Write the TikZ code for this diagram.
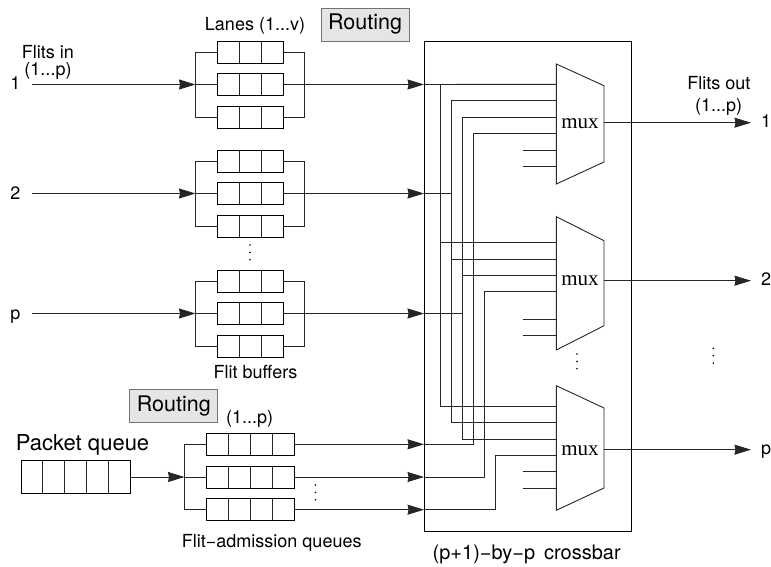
\documentclass[tikz,border=0pt]{standalone}
\usepackage{fontspec}
\setmainfont{TeX Gyre Heros}
\newfontfamily\muxfont{Liberation Serif}
\usetikzlibrary{arrows.meta}
\tikzset{
  wire/.style={line width=0.9pt, black!85},
  flit/.style={wire, -{Stealth[length=16.5pt, width=10pt, inset=1pt]}},
  queue/.style 2 args={draw, line width=0.9pt, inner sep=0pt, minimum height=22pt, minimum width={#1*#2},
    path picture={\foreach \k in {1,...,#1} \draw[wire] ([xshift=\k*#2]path picture bounding box.south west) -- ([xshift=\k*#2]path picture bounding box.north west);}},
  routing/.style={draw=black!55, line width=0.9pt, fill=black!10, inner sep=0pt, minimum width=88pt, minimum height=33pt, font=\fontsize{21.5}{24}\selectfont},
  lab/.style={inner sep=0pt, anchor=base, font=\fontsize{18}{20}\selectfont},
  big/.style={inner sep=0pt, anchor=base, font=\fontsize{22}{24}\selectfont},
  mux/.style={inner sep=0pt, anchor=base, font=\muxfont\fontsize{21}{24}\selectfont}}
\begin{document}
\begin{tikzpicture}[x=1pt, y=-1pt]
\useasboundingbox (0,0) rectangle (771,567);
% crossbar frame
\node[draw, line width=0.9pt, inner sep=0pt, minimum width=207pt, minimum height=490.5pt] (xbar) at (528,286.25) {};
\node[lab, font=\fontsize{20}{22}\selectfont] (xlab) at (526.7,559) {(p+1)−by−p\, crossbar};
% lanes with their brackets
\foreach \g/\a/\b/\c/\n/\t in {1/52/84.5/117/1/90, 2/161/193.5/226/2/199, 3/281/313.5/346/p/319.5}{
  \node[queue={3}{21.83pt}] (l\g1) at (250.3,\a) {};
  \node[queue={3}{21.83pt}] (l\g2) at (250.3,\b) {};
  \node[queue={3}{21.83pt}] (l\g3) at (250.3,\c) {};
  \coordinate (s\g) at (32,\b);
  \coordinate (a\g) at (195.5,\b);
  \coordinate (z\g) at (304.5,\b);
  \coordinate (x\g) at (xbar.west |- a\g);
  \node[lab] (in\g) at (15.5,\t) {\n};
  \draw[flit] (s\g) -- (a\g);
  \draw[flit] (z\g) -- (x\g);
  \draw[wire] (l\g1.west) -- (a\g |- l\g1) -- (a\g |- l\g3) -- (l\g3.west);
  \draw[wire] (l\g1.east) -- (z\g |- l\g1) -- (z\g |- l\g3) -- (l\g3.east);
  \draw[wire] (a\g) -- (l\g2.west);
  \draw[wire] (l\g2.east) -- (z\g);
}
\node[lab] (lanes) at (255,31) {Lanes (1...v)};
\node[lab] (buffers) at (255.5,378.7) {Flit buffers};
\node[lab] (fin) at (48,58.6) {Flits in};
\node[lab] (finr) at (48,75.6) {(1...p)};
\node[routing] (r1) at (365,24.5) {Routing};
\node[routing] (r2) at (173.75,406.2) {Routing};
% packet and admission queues
\node[big] (pq) at (82.5,450) {Packet queue};
\node[queue={5}{21.87pt}, minimum height=33pt] (p) at (75.65,477) {};
\coordinate (b) at (184.5,477);
\draw[flit] (p.east) -- (b);
\foreach \g/\y in {1/444.3, 2/477, 3/509.7}{
  \node[queue={4}{21.93pt}] (q\g) at (250.15,\y) {};
  \coordinate (e\g) at (xbar.west |- q\g);
  \draw[flit] (q\g.east) -- (e\g);
}
\draw[wire] (q1.west) -- (b |- q1) -- (b |- q3) -- (q3.west);
\draw[wire] (b) -- (q2.west);
\node[lab] (qr) at (249.7,423.3) {(1...p)};
\node[lab] (adm) at (271.7,547.7) {Flit−admission queues};
% muxes
\foreach \g/\p/\q/\u/\v/\o/\t/\n in {1/64/85.7/162/184/122.7/128.3/1, 2/216.7/240.7/325.7/350/280.7/285.7/2, 3/385.7/408/488/510.3/449.7/455/p}{
  \draw[wire] (556.3,\p) -- (604,\q) -- (604,\u) -- (556.3,\v) -- cycle;
  \node[mux] (m\g) at (580,\t) {mux};
  \coordinate (o\g) at (604,\o);
  \coordinate (t\g) at (751,\o);
  \draw[flit] (o\g) -- (t\g);
  \node[lab, anchor=base west] (out\g) at (760.8,\t-0.6) {\n};
}
\foreach \n/\y in {m11/84.3, m12/100.7, m13/117.3, m14/133.7, m15/150, m16/166.3,
  m21/242.7, m22/259, m23/275.3, m24/291.7, m25/319, m26/335.3,
  m31/406.3, m32/422.7, m33/439, m34/455.3, m35/471.7, m36/488}
  \coordinate (\n) at (556.3,\y);
\foreach \n in {m15, m16, m25, m26, m35, m36}
  \draw[wire] (522.7,0 |- \n) -- (\n);
\node[lab] (fout) at (718.8,90) {Flits out};
\node[lab] (foutr) at (718.7,111.7) {(1...p)};
% wiring inside the crossbar
\coordinate (v1) at (440.7,0);
\coordinate (v2) at (451.7,0);
\coordinate (v3) at (462.7,0);
\coordinate (v4) at (473.3,0);
\coordinate (v5) at (484.3,0);
\coordinate (v6) at (495.3,0);
\draw[wire] (x1) -- (m11);
\draw[wire] (x2) -- (v2 |- x2);
\draw[wire] (x3) -- (v3 |- x3);
\draw[wire] (v1 |- x1) -- (v1 |- m31) -- (m31);
\draw[wire] (m12) -- (v2 |- m12) -- (v2 |- m32) -- (m32);
\draw[wire] (m13) -- (v3 |- m13) -- (v3 |- m33) -- (m33);
\draw[wire] (v1 |- m21) -- (m21);
\draw[wire] (v2 |- m22) -- (m22);
\draw[wire] (v3 |- m23) -- (m23);
\draw[wire] (e1) -- (v4 |- e1) -- (v4 |- m14) -- (m14);
\draw[wire] (e2) -- (v5 |- e2) -- (v5 |- m24) -- (m24);
\draw[wire] (e3) -- (v6 |- e3) -- (v6 |- m34) -- (m34);
% dots
\foreach \x/\y in {250/245, 315.5/485, 577/354, 713.3/348.3}
  \foreach \d in {0,7.4,14.8}
    \fill ({\x},{\y+\d}) circle (0.9pt);
\end{tikzpicture}
\end{document}
